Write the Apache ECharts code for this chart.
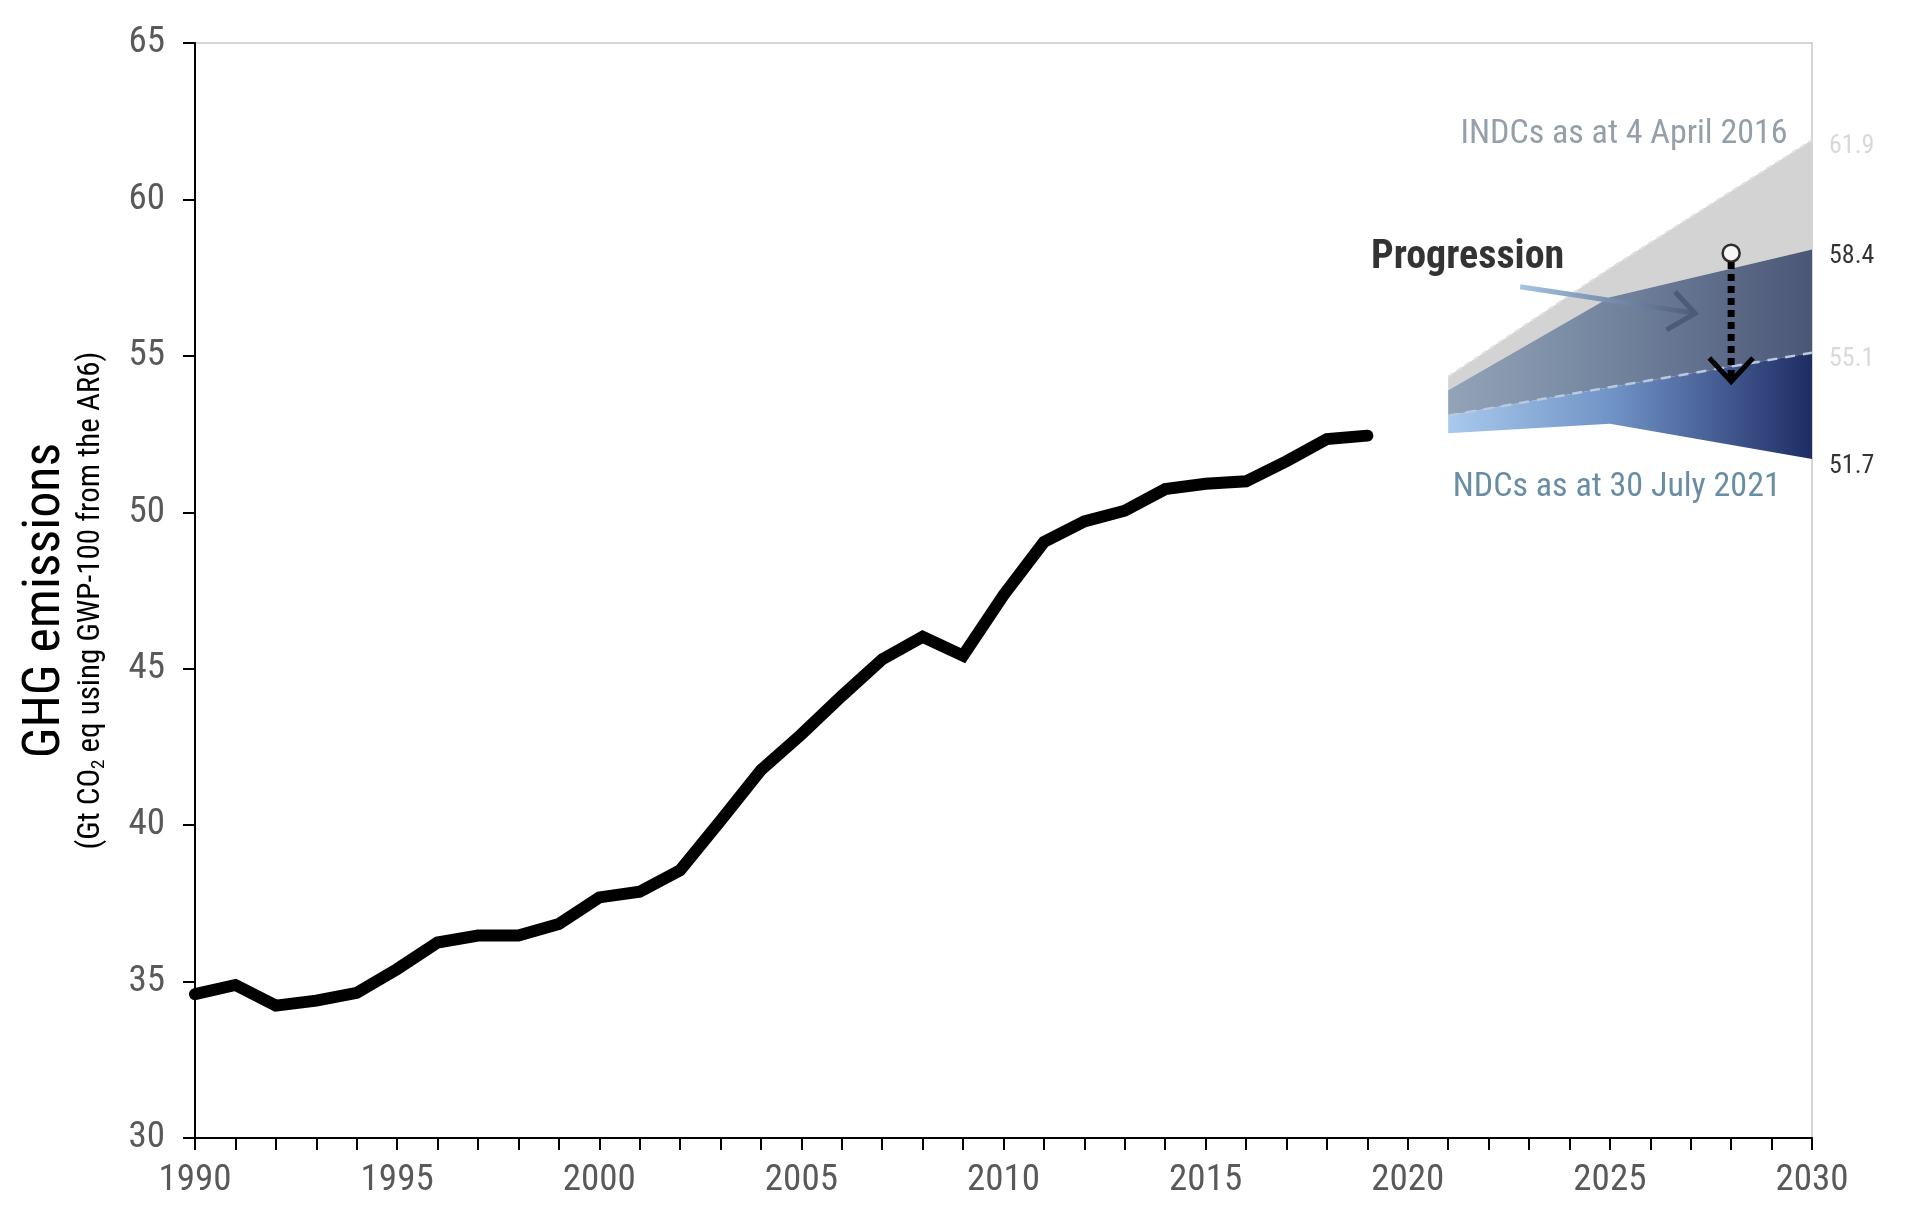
<!DOCTYPE html>
<html>
<head>
<meta charset="utf-8">
<script src="https://cdn.jsdelivr.net/npm/echarts@6/dist/echarts.min.js"></script>
<style>
html,body{margin:0;padding:0;background:#fff;}
#chart{width:1920px;height:1222px;}
</style>
</head>
<body>
<div id="chart"></div>
<script>
// ---------- data ----------
const years = [1990,1991,1992,1993,1994,1995,1996,1997,1998,1999,2000,2001,2002,2003,2004,2005,2006,2007,2008,2009,2010,2011,2012,2013,2014,2015,2016,2017,2018,2019];
const emissions = [34.60,34.89,34.23,34.39,34.64,35.40,36.25,36.47,36.47,36.84,37.69,37.87,38.56,40.14,41.76,42.90,44.13,45.30,46.02,45.42,47.35,49.05,49.71,50.05,50.74,50.91,50.99,51.63,52.34,52.45];

const projYears = [2021, 2025, 2030];
const ndcLow  = [52.53, 52.83, 51.7];
const indcLow = [53.09, 54.0, 55.1];
const ndcUp   = [53.90, 56.87, 58.4];
const indcUp  = [54.34, 57.8, 61.9];

const endValues = [61.9, 58.4, 55.1, 51.7];
const endColors = ['#cfcfcf', '#000000', '#cfcfcf', '#000000'];

const progressionShaft = [[2022.78, 57.21], [2027.11, 56.36]];
const progressionHead  = [[2026.61, 57.05], [2027.11, 56.36], [2026.40, 55.83]];
const dropCircle = [2028, 58.28];
const dropLine   = [[2028, 58.0], [2028, 54.3]];
const dropHead   = [[2027.46, 54.93], [2028, 54.18], [2028.54, 54.93]];

const notes = [
  {text: 'INDCs as at 4 April 2016', at: [2025.35, 62.08], color: '#7b8794', size: 34, weight: 'normal'},
  {text: 'NDCs as at 30 July 2021', at: [2025.17, 50.8], color: '#44708f', size: 34, weight: 'normal'},
  {text: 'Progression', at: [2021.48, 58.12], color: '#000000', size: 40, weight: 'bold'}
];

const yMin = 30, yMax = 65, yStep = 5;
const xMin = 1990, xMax = 2030, xStep = 5;

// ---------- build ----------
const FONT = '"Roboto Condensed","Liberation Sans Narrow","Arial Narrow","Liberation Sans",Arial,sans-serif';
const pair = (xs, ys) => xs.map((x, i) => [x, ys[i]]);

const hGrad = stops => ({type: 'linear', x: 0, y: 0, x2: 1, y2: 0,
  colorStops: stops.map(s => ({offset: s[0], color: s[1]}))});

const bands = [
  {lower: ndcUp, upper: indcUp, fill: '#d3d3d3'},
  {lower: indcLow, upper: ndcUp, fill: hGrad([[0, '#93a4b9'], [0.5, '#6f809b'], [1, '#4a5676']])},
  {lower: ndcLow, upper: indcLow, fill: hGrad([[0, '#a9c9ec'], [0.45, '#7093c6'], [1, '#1f2c64']])}
];

const chart = echarts.init(document.getElementById('chart'), null, {renderer: 'canvas'});

const option = {
  animation: false,
  backgroundColor: '#ffffff',
  textStyle: {fontFamily: FONT},
  grid: {left: 195, right: 108, top: 43, bottom: 84, show: true, borderColor: '#c8c8c8', borderWidth: 1.5, containLabel: false, outerBoundsMode: 'none'},
  xAxis: {
    type: 'value', min: xMin, max: xMax, interval: xStep,
    axisLine: {show: true, lineStyle: {color: '#000', width: 2}},
    axisTick: {show: true, length: 12, lineStyle: {color: '#000', width: 2}},
    minorTick: {show: true, splitNumber: 5, length: 12, lineStyle: {color: '#000', width: 2}},
    splitLine: {show: false}, minorSplitLine: {show: false},
    axisLabel: {fontSize: 37, color: '#595959', margin: 24, fontFamily: FONT, formatter: v => String(v)}
  },
  yAxis: {
    type: 'value', min: yMin, max: yMax, interval: yStep,
    axisLine: {show: true, lineStyle: {color: '#000', width: 2}},
    axisTick: {show: true, length: 12, lineStyle: {color: '#000', width: 2}},
    splitLine: {show: false},
    axisLabel: {fontSize: 37, color: '#595959', margin: 30, fontFamily: FONT, formatter: v => String(v)},
    name: '{t|GHG emissions}\n{s|(Gt CO}{sub|2}{s| eq using GWP-100 from the AR6)}',
    nameLocation: 'middle', nameRotate: 90, nameGap: 86,
    nameTextStyle: {
      padding: [0, 20, 0, 0],
      rich: {
        t: {fontSize: 52, color: '#000', fontFamily: FONT, lineHeight: 54},
        s: {fontSize: 31, color: '#000', fontFamily: FONT, lineHeight: 36},
        sub: {fontSize: 19, color: '#000', fontFamily: FONT, lineHeight: 22, verticalAlign: 'bottom'}
      }
    }
  },
  series: [
    {type: 'custom', name: 'bands', silent: true, clip: true, z: 2,
      data: bands.map((b, i) => [i]),
      renderItem: (params, api) => {
        const b = bands[api.value(0)];
        const top = projYears.map((x, i) => api.coord([x, b.upper[i]]));
        const bot = projYears.map((x, i) => api.coord([x, b.lower[i]])).reverse();
        return {type: 'polygon', shape: {points: top.concat(bot)}, style: {fill: b.fill, stroke: null}};
      }},
    {type: 'line', name: 'INDC top edge', data: pair(projYears, indcUp), symbol: 'none', silent: true,
      lineStyle: {color: '#e2e2e2', width: 2, type: [6, 4]}, z: 3},
    {type: 'line', name: 'INDC low', data: pair(projYears, indcLow), symbol: 'none', silent: true,
      lineStyle: {color: '#b9c9df', width: 2.5, type: [10, 8]}, z: 3},
    {type: 'line', name: 'Historical', data: pair(years, emissions), symbol: 'none', silent: true,
      lineStyle: {color: '#000', width: 12, cap: 'round', join: 'miter'}, z: 4},
    {type: 'line', name: 'progression shaft', data: progressionShaft, symbol: 'none', silent: true,
      lineStyle: {width: 5, color: hGrad([[0, '#a6c4e4'], [1, '#4d5b79']])}, z: 5},
    {type: 'line', name: 'progression head', data: progressionHead, symbol: 'none', silent: true,
      lineStyle: {width: 5, color: '#4d5b79', join: 'miter'}, z: 5},
    {type: 'line', name: 'drop', data: dropLine, symbol: 'none', silent: true,
      lineStyle: {width: 7, color: '#000', type: [7, 5]}, z: 5},
    {type: 'line', name: 'drop head', data: dropHead, symbol: 'none', silent: true,
      lineStyle: {width: 5, color: '#000', join: 'miter'}, z: 5},
    {type: 'scatter', name: 'circle', data: [dropCircle], symbol: 'circle', symbolSize: 17, silent: true,
      itemStyle: {color: '#fff', borderColor: '#000', borderWidth: 2.5}, z: 6},
    {type: 'scatter', name: 'end labels', silent: true, symbolSize: 0, z: 6,
      data: endValues.map((v, i) => ({value: [xMax, v], label: {color: endColors[i]}})),
      label: {show: true, position: 'right', distance: 17, offset: [0, 7], fontSize: 26, fontFamily: FONT,
        formatter: p => p.value[1].toFixed(1)}},
    {type: 'scatter', name: 'notes', silent: true, symbolSize: 0, z: 7,
      data: notes.map(n => ({value: n.at, label: {formatter: n.text, color: n.color, fontSize: n.size, fontWeight: n.weight}})),
      label: {show: true, position: 'inside', align: 'center', verticalAlign: 'middle', fontFamily: FONT}}
  ]
};
chart.setOption(option);
</script>
</body>
</html>
